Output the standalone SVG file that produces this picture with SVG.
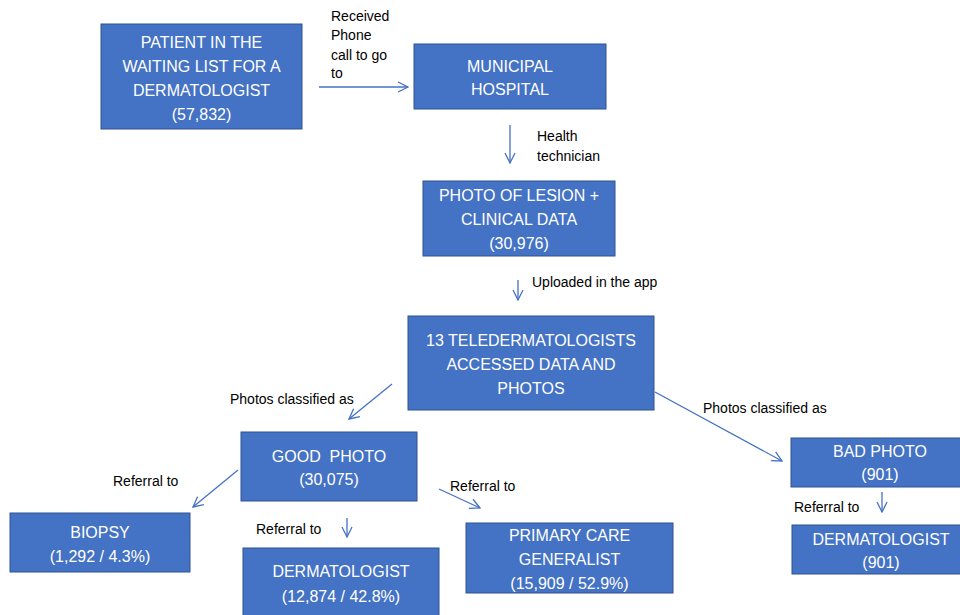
<svg xmlns="http://www.w3.org/2000/svg" width="960" height="615" viewBox="0 0 960 615">
<defs>
<marker id="ah" viewBox="0 0 12 12" refX="11" refY="6" markerWidth="12" markerHeight="12" markerUnits="userSpaceOnUse" orient="auto">
<path d="M1,1 L11,6 L1,11" fill="none" stroke="#4472C4" stroke-width="1.3"/>
</marker>
<style>
.box{fill:#4472C4;stroke:#2F528F;stroke-width:1}
.bt{font-family:"Liberation Sans",Arial,sans-serif;font-size:16px;fill:#ffffff;text-anchor:middle}
.lb{font-family:"Liberation Sans",Arial,sans-serif;font-size:14px;fill:#000000}
.cn{stroke:#4472C4;stroke-width:1.3;fill:none;marker-end:url(#ah)}
.pre{white-space:pre}
</style>
</defs>
<rect width="960" height="615" fill="#ffffff"/>
<g id="connectors">
<line class="cn" x1="319" y1="87" x2="408" y2="87"/>
<line class="cn" x1="510" y1="125" x2="510" y2="163"/>
<line class="cn" x1="518" y1="280" x2="518" y2="300"/>
<line class="cn" x1="392" y1="384" x2="349" y2="419"/>
<line class="cn" x1="655" y1="392" x2="782" y2="461"/>
<line class="cn" x1="238" y1="470" x2="193" y2="507"/>
<line class="cn" x1="347" y1="518" x2="347" y2="537"/>
<line class="cn" x1="439" y1="489" x2="480" y2="508"/>
<line class="cn" x1="882" y1="492" x2="882" y2="512"/>
<text class="lb"><tspan x="331" y="21">Received</tspan><tspan x="331" y="40">Phone</tspan><tspan x="331" y="60">call to go</tspan><tspan x="331" y="78">to</tspan></text>
<text class="lb"><tspan x="537" y="141">Health</tspan><tspan x="537" y="161">technician</tspan></text>
<text class="lb" x="532" y="287">Uploaded in the app</text>
<text class="lb" x="230" y="404">Photos classified as</text>
<text class="lb" x="703" y="413">Photos classified as</text>
<text class="lb" x="113" y="486">Referral to</text>
<text class="lb" x="256" y="534">Referral to</text>
<text class="lb" x="450" y="491">Referral to</text>
<text class="lb" x="794" y="512">Referral to</text>
</g>
<g id="patient">
<rect class="box" x="101" y="24" width="201" height="105"/>
<text class="bt"><tspan x="201.5" y="48">PATIENT IN THE</tspan><tspan x="201.5" y="72">WAITING LIST FOR A</tspan><tspan x="201.5" y="96">DERMATOLOGIST</tspan><tspan x="201.5" y="120">(57,832)</tspan></text>
</g>
<g id="hospital">
<rect class="box" x="414" y="44" width="192" height="65"/>
<text class="bt"><tspan x="510" y="72">MUNICIPAL</tspan><tspan x="510" y="95">HOSPITAL</tspan></text>
</g>
<g id="photo">
<rect class="box" x="423" y="181" width="192" height="75"/>
<text class="bt"><tspan x="519" y="201">PHOTO OF LESION +</tspan><tspan x="519" y="225">CLINICAL DATA</tspan><tspan x="519" y="249">(30,976)</tspan></text>
</g>
<g id="teledermatologists">
<rect class="box" x="408" y="316" width="246" height="94"/>
<text class="bt"><tspan x="531" y="346">13 TELEDERMATOLOGISTS</tspan><tspan x="531" y="370">ACCESSED DATA AND</tspan><tspan x="531" y="394">PHOTOS</tspan></text>
</g>
<g id="good-photo">
<rect class="box" x="241" y="432" width="176" height="69"/>
<text class="bt pre" xml:space="preserve"><tspan x="329" y="462">GOOD  PHOTO</tspan><tspan x="329" y="485">(30,075)</tspan></text>
</g>
<g id="biopsy">
<rect class="box" x="10" y="513" width="180" height="59"/>
<text class="bt"><tspan x="100" y="538">BIOPSY</tspan><tspan x="100" y="562">(1,292 / 4.3%)</tspan></text>
</g>
<g id="dermatologist">
<rect class="box" x="243" y="548" width="196" height="70"/>
<text class="bt"><tspan x="341" y="577">DERMATOLOGIST</tspan><tspan x="341" y="602">(12,874 / 42.8%)</tspan></text>
</g>
<g id="primary-care">
<rect class="box" x="466" y="523" width="207" height="70"/>
<text class="bt"><tspan x="569.5" y="541">PRIMARY CARE</tspan><tspan x="569.5" y="565">GENERALIST</tspan><tspan x="569.5" y="589">(15,909 / 52.9%)</tspan></text>
</g>
<g id="bad-photo">
<rect class="box" x="791" y="438" width="172" height="49"/>
<text class="bt"><tspan x="880" y="457">BAD PHOTO</tspan><tspan x="880" y="480">(901)</tspan></text>
</g>
<g id="dermatologist-901">
<rect class="box" x="792" y="525" width="171" height="49"/>
<text class="bt"><tspan x="881" y="545">DERMATOLOGIST</tspan><tspan x="881" y="568">(901)</tspan></text>
</g>
</svg>
